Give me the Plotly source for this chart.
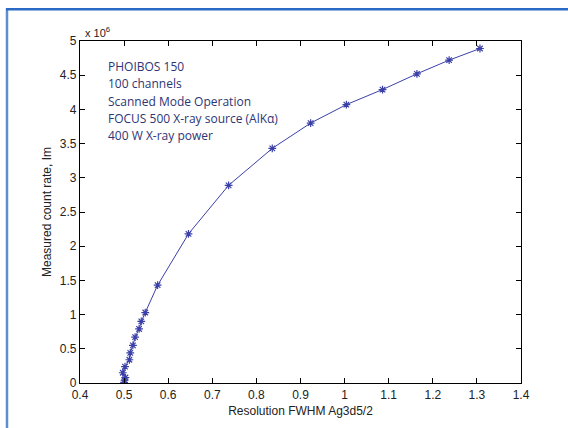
import plotly.graph_objects as go

# Data
fwhm = [0.500, 0.501, 0.503, 0.497, 0.502, 0.512, 0.514, 0.520, 0.525, 0.534, 0.539,
        0.548, 0.576, 0.646, 0.737, 0.836, 0.923, 1.004, 1.086, 1.164, 1.237, 1.307]
count_rate_millions = [0.01, 0.04, 0.08, 0.15, 0.24, 0.34, 0.44, 0.55, 0.67, 0.79, 0.90,
                       1.03, 1.43, 2.18, 2.89, 3.43, 3.80, 4.07, 4.29, 4.52, 4.72, 4.89]
x_ticks = [0.4, 0.5, 0.6, 0.7, 0.8, 0.9, 1.0, 1.1, 1.2, 1.3, 1.4]
x_tick_labels = ["0.4", "0.5", "0.6", "0.7", "0.8", "0.9", "1", "1.1", "1.2", "1.3", "1.4"]
y_ticks = [0, 0.5, 1, 1.5, 2, 2.5, 3, 3.5, 4, 4.5, 5]
y_tick_labels = ["0", "0.5", "1", "1.5", "2", "2.5", "3", "3.5", "4", "4.5", "5"]
info_lines = ["PHOIBOS 150", "100 channels", "Scanned Mode Operation",
              "FOCUS 500 X-ray source (AlKα)", "400 W X-ray power"]

L, R, T, B = 80, 47, 41, 41
W, H = 568, 428
pw, ph = W - L - R, H - T - B

fig = go.Figure()
fig.add_trace(go.Scatter(
    x=fwhm, y=count_rate_millions, mode="lines+markers",
    line=dict(color="#3b40a8", width=1),
    marker=dict(symbol="asterisk-open", size=6.5, color="#3b40a8",
                line=dict(color="#3b40a8", width=1.2)),
    showlegend=False,
))

axis_common = dict(
    showline=True, linecolor="black", linewidth=1.2, mirror="ticks",
    ticks="inside", ticklen=5, tickwidth=1.2, tickcolor="black",
    showgrid=False, zeroline=False,
    tickfont=dict(family="Liberation Sans, Arial", size=12, color="#222"),
)

fig.update_xaxes(range=[0.4, 1.4], tickvals=x_ticks, ticktext=x_tick_labels,
                 title=dict(text="Resolution FWHM Ag3d5/2", standoff=6,
                            font=dict(family="Liberation Sans, Arial", size=12, color="#222")),
                 **axis_common)
fig.update_yaxes(range=[0, 5], tickvals=y_ticks, ticktext=y_tick_labels,
                 title=dict(text="Measured count rate, Im", standoff=5,
                            font=dict(family="Liberation Sans, Arial", size=12, color="#222")),
                 **axis_common)

# Exponent label
fig.add_annotation(x=(83 - L) / pw, y=1 + (T - 32) / ph, xref="paper", yref="paper",
                   text="x 10<sup>6</sup>", showarrow=False, xanchor="left", yanchor="middle",
                   font=dict(family="Liberation Sans, Arial", size=11, color="#222"))

# Info text
for i, line in enumerate(info_lines):
    ypx = 67 + i * 17.5
    fig.add_annotation(x=(106 - L) / pw, y=1 - (ypx - T) / ph, xref="paper", yref="paper",
                       text=line, showarrow=False, xanchor="left", yanchor="middle",
                       font=dict(family="Open Sans, Noto Sans", size=12, color="#2e3575"))

# Blue frame (left and top)
fig.add_shape(type="line", xref="paper", yref="paper",
              x0=(7 - L) / pw, x1=(7 - L) / pw, y0=1 + (T - 8) / ph, y1=-(B + 5) / ph,
              line=dict(color="#5b8fd0", width=2.5))
fig.add_shape(type="line", xref="paper", yref="paper",
              x0=(6 - L) / pw, x1=(W + 10 - L) / pw, y0=1 + (T - 9) / ph, y1=1 + (T - 9) / ph,
              line=dict(color="#2a6ac6", width=2.5))

fig.update_layout(
    width=W, height=H,
    margin=dict(l=L, r=R, t=T, b=B),
    paper_bgcolor="white", plot_bgcolor="white",
)

fig.write_html("out.html", config={"displayModeBar": False},
               post_script="document.body.style.margin='0';document.body.style.overflow='hidden';")
